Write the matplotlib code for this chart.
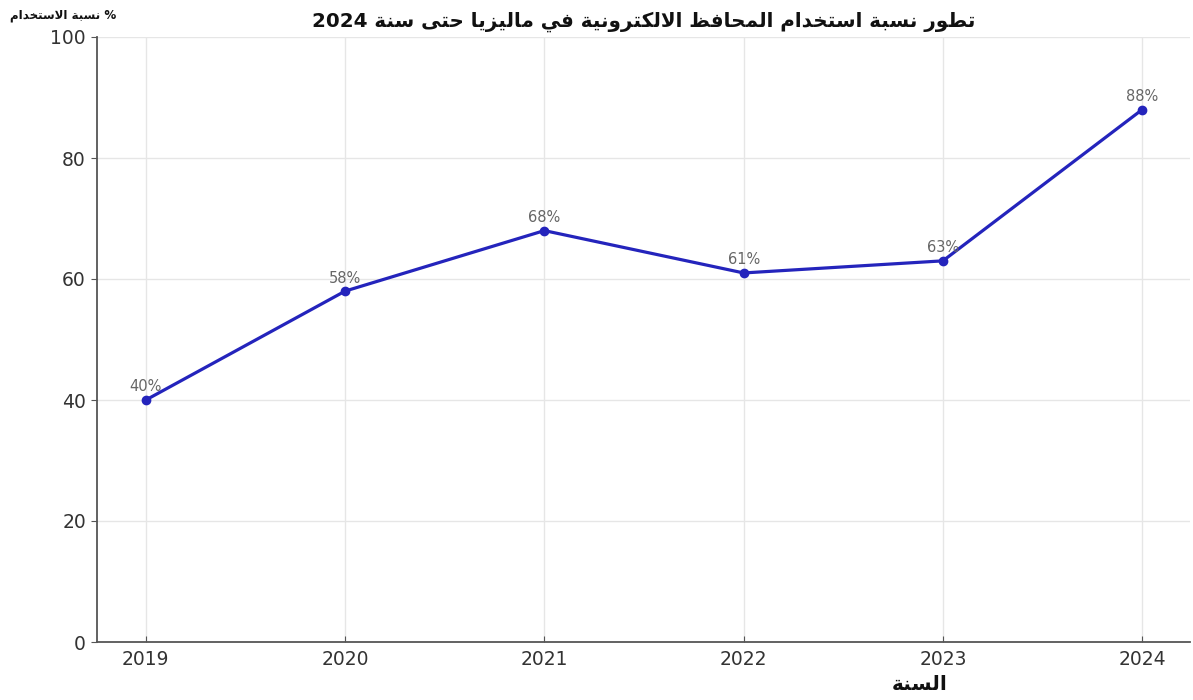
import matplotlib
matplotlib.use("Agg")
import matplotlib.pyplot as plt

# ---- data ----
years = [2019, 2020, 2021, 2022, 2023, 2024]
usage_pct = [40, 58, 68, 61, 63, 88]
y_ticks = [0, 20, 40, 60, 80, 100]

title_text = "تطور نسبة استخدام المحافظ الالكترونية في ماليزيا حتى سنة 2024"
ylabel_text = "% نسبة الاستخدام"
xlabel_text = "السنة"

# ---- minimal Arabic shaping (presentation forms) + RTL ordering ----
# char: (isolated, final, initial, medial)
FORMS = {
    "ا": (0xFE8D, 0xFE8E, None, None),
    "ب": (0xFE8F, 0xFE90, 0xFE91, 0xFE92),
    "ة": (0xFE93, 0xFE94, None, None),
    "ت": (0xFE95, 0xFE96, 0xFE97, 0xFE98),
    "ح": (0xFEA1, 0xFEA2, 0xFEA3, 0xFEA4),
    "خ": (0xFEA5, 0xFEA6, 0xFEA7, 0xFEA8),
    "د": (0xFEA9, 0xFEAA, None, None),
    "ر": (0xFEAD, 0xFEAE, None, None),
    "ز": (0xFEAF, 0xFEB0, None, None),
    "س": (0xFEB1, 0xFEB2, 0xFEB3, 0xFEB4),
    "ط": (0xFEC1, 0xFEC2, 0xFEC3, 0xFEC4),
    "ظ": (0xFEC5, 0xFEC6, 0xFEC7, 0xFEC8),
    "ف": (0xFED1, 0xFED2, 0xFED3, 0xFED4),
    "ك": (0xFED9, 0xFEDA, 0xFEDB, 0xFEDC),
    "ل": (0xFEDD, 0xFEDE, 0xFEDF, 0xFEE0),
    "م": (0xFEE1, 0xFEE2, 0xFEE3, 0xFEE4),
    "ن": (0xFEE5, 0xFEE6, 0xFEE7, 0xFEE8),
    "و": (0xFEED, 0xFEEE, None, None),
    "ى": (0xFEEF, 0xFEF0, None, None),
    "ي": (0xFEF1, 0xFEF2, 0xFEF3, 0xFEF4),
}
DUAL = {c for c, f in FORMS.items() if f[2] is not None}


def shape_word(word):
    chars = list(word)
    out = []
    i = 0
    n = len(chars)
    while i < n:
        c = chars[i]
        prev = chars[i - 1] if i > 0 else None
        nxt = chars[i + 1] if i + 1 < n else None
        if c not in FORMS:
            out.append(c)
            i += 1
            continue
        join_prev = prev in DUAL
        if c == "ل" and nxt == "ا":
            out.append(chr(0xFEFC if join_prev else 0xFEFB))
            i += 2
            continue
        join_next = c in DUAL and nxt in FORMS
        iso, fin, ini, med = FORMS[c]
        if join_prev and join_next:
            code = med
        elif join_prev:
            code = fin
        elif join_next:
            code = ini
        else:
            code = iso
        out.append(chr(code))
        i += 1
    return "".join(out)


def rtl(text):
    words = text.split(" ")
    visual = []
    for w in reversed(words):
        if any(ch in FORMS for ch in w):
            visual.append(shape_word(w)[::-1])
        else:
            visual.append(w)
    return " ".join(visual)


# ---- figure ----
fig = plt.figure(figsize=(11.93, 7.0), dpi=100)
ax = fig.add_axes([97 / 1193, 58 / 700, (1190 - 97) / 1193, (642 - 37) / 700])

line_color = "#2424bc"
ax.plot(years, usage_pct, color=line_color, linewidth=2.3,
        marker="o", markersize=6, zorder=3)

for x, y in zip(years, usage_pct):
    ax.annotate(f"{y}%", (x, y), xytext=(0, 4), textcoords="offset points",
                ha="center", va="bottom", fontsize=10.5, color="#666666")

ax.set_xlim(2018.755, 2024.24)
ax.set_ylim(0, 100)
ax.set_xticks(years)
ax.set_yticks(y_ticks)

ax.grid(True, color="#e6e6e6", linewidth=1.0)
ax.set_axisbelow(True)

for side in ("top", "right"):
    ax.spines[side].set_visible(False)
for side in ("left", "bottom"):
    ax.spines[side].set_color("#555555")
    ax.spines[side].set_linewidth(1.3)

ax.tick_params(axis="x", direction="in", length=4, color="#555555",
               labelsize=13.5, labelcolor="#333333", pad=6)
ax.tick_params(axis="y", direction="out", length=4, color="#555555",
               labelsize=13.5, labelcolor="#333333", pad=4)

fig.text((97 + 1190) / 2 / 1193, 1 - 22 / 700, rtl(title_text),
         ha="center", va="center", fontsize=14.3, fontweight="bold",
         family=["DejaVu Sans"], color="#111111")
fig.text(10 / 1193, 1 - 15 / 700, rtl(ylabel_text),
         ha="left", va="center", fontsize=8.6, fontweight="bold",
         family=["DejaVu Sans"], color="#111111")
fig.text(920 / 1193, 1 - 684 / 700, rtl(xlabel_text),
         ha="center", va="center", fontsize=14.5, fontweight="bold",
         family=["DejaVu Sans"], color="#111111")

fig.savefig("out.png", dpi=100)
